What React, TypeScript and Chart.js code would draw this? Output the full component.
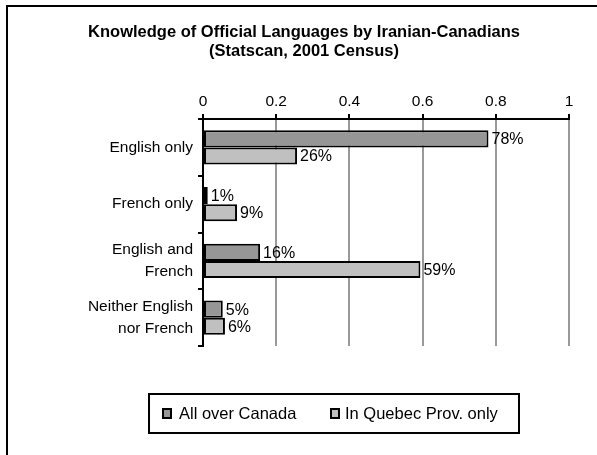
import React, { useEffect, useRef } from "react";
import { Chart, registerables } from "chart.js";
Chart.register(...registerables);

const TITLE_LINES = ["Knowledge of Official Languages by Iranian-Canadians", "(Statscan, 2001 Census)"];
const CATEGORIES = [["English only"], ["French only"], ["English and", "French"], ["Neither English", "nor French"]];
const SERIES_LABELS = ["All over Canada", "In Quebec Prov. only"];
const ALL_CANADA = [0.78, 0.013, 0.156, 0.054];
const QUEBEC = [0.257, 0.093, 0.594, 0.06];
const SERIES_COLORS = ["#969696", "#c0c0c0"];
const X_MIN = 0;
const X_MAX = 1;
const X_STEP = 0.2;

const FONT = "'Liberation Sans', Arial, sans-serif";

export default function App() {
  const ref = useRef<HTMLCanvasElement | null>(null);

  useEffect(() => {
    const canvas = ref.current;
    if (!canvas) return;

    const decor = {
      id: "decor",
      afterDraw(chart: any) {
        const ctx = chart.ctx;
        ctx.save();
        // frame (top and left)
        ctx.fillStyle = "#000";
        ctx.fillRect(6, 5, 591, 2);
        ctx.fillRect(6, 5, 2, 450);

        // title
        ctx.font = `bold 16.5px ${FONT}`;
        ctx.textAlign = "center";
        ctx.textBaseline = "middle";
        ctx.fillText(TITLE_LINES[0], 304, 32);
        ctx.fillText(TITLE_LINES[1], 304, 51);

        // data labels
        ctx.font = `16px ${FONT}`;
        ctx.textAlign = "left";
        ctx.textBaseline = "middle";
        chart.data.datasets.forEach((ds: any, di: number) => {
          const meta = chart.getDatasetMeta(di);
          meta.data.forEach((el: any, i: number) => {
            const v = ds.data[i];
            ctx.fillText(Math.round(v * 100) + "%", el.x + 3, el.y + 1);
          });
        });

        // legend
        ctx.lineWidth = 2;
        ctx.strokeStyle = "#000";
        ctx.strokeRect(149, 394, 370, 39);
        const items = [
          { mx: 163, tx: 179 },
          { mx: 331, tx: 345 },
        ];
        ctx.font = `16.5px ${FONT}`;
        items.forEach((it, i) => {
          ctx.fillStyle = SERIES_COLORS[i];
          ctx.fillRect(it.mx, 409, 8, 9);
          ctx.strokeRect(it.mx, 409, 8, 9);
          ctx.fillStyle = "#000";
          ctx.fillText(SERIES_LABELS[i], it.tx, 414);
        });
        ctx.restore();
      },
    };

    const chart = new Chart(canvas, {
      type: "bar",
      data: {
        labels: CATEGORIES,
        datasets: [
          {
            label: SERIES_LABELS[0],
            data: ALL_CANADA,
            backgroundColor: SERIES_COLORS[0],
            borderColor: "#000",
            borderWidth: 2,
            borderSkipped: false,
            categoryPercentage: 0.6,
            barPercentage: 1,
          },
          {
            label: SERIES_LABELS[1],
            data: QUEBEC,
            backgroundColor: SERIES_COLORS[1],
            borderColor: "#000",
            borderWidth: 2,
            borderSkipped: false,
            categoryPercentage: 0.6,
            barPercentage: 1,
          },
        ],
      },
      options: {
        indexAxis: "y",
        responsive: false,
        animation: false,
        layout: { padding: { top: 61, left: 0, right: 28, bottom: 109 } },
        plugins: {
          legend: { display: false },
          title: { display: false },
          tooltip: { enabled: false },
        },
        scales: {
          x: {
            position: "top",
            min: X_MIN,
            max: X_MAX,
            ticks: {
              stepSize: X_STEP,
              color: "#000",
              font: { family: FONT, size: 15.5 },
              padding: 3,
              callback: (v: any) => String(Number(Number(v).toFixed(1))),
            },
            grid: { color: "#999", lineWidth: 2, tickColor: "#000", tickLength: 5 },
            border: { color: "#000", width: 2 },
            afterFit: (s: any) => {
              s.height = 58;
            },
          },
          y: {
            offset: true,
            ticks: {
              color: "#000",
              font: { family: FONT, size: 15.5, lineHeight: 1.4 },
              padding: 5,
            },
            grid: { drawOnChartArea: false, offset: true, tickColor: "#000", tickLength: 5, lineWidth: 2 },
            border: { color: "#000", width: 2 },
            afterFit: (s: any) => {
              s.width = 203;
            },
          },
        },
      },
      plugins: [decor],
    });
    return () => chart.destroy();
  }, []);

  return (
    <div style={{ position: "absolute", left: 0, top: 0, width: 597, height: 455, background: "#fff" }}>
      <canvas ref={ref} width={597} height={455} />
    </div>
  );
}
